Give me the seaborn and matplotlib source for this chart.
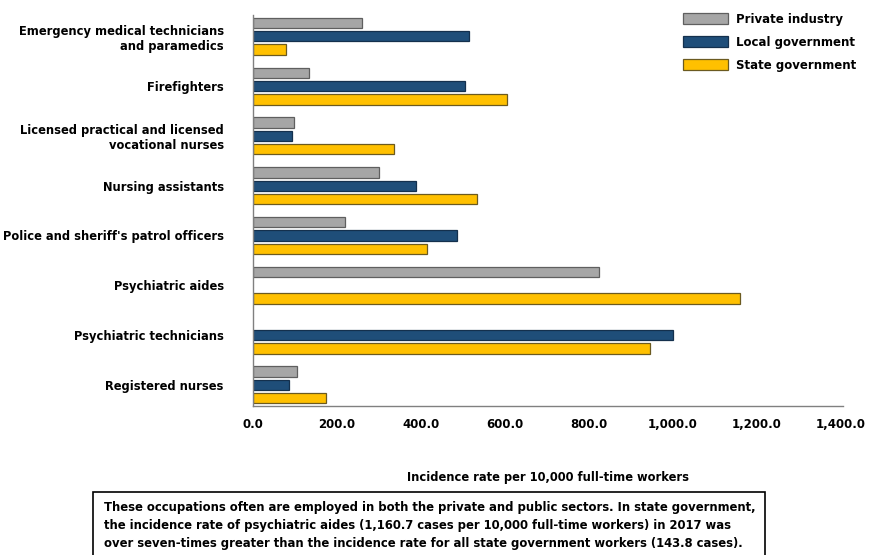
import numpy as np
import pandas as pd
import matplotlib
matplotlib.use("Agg")
import matplotlib.pyplot as plt
import seaborn as sns
from matplotlib.ticker import FuncFormatter, FixedLocator
from matplotlib.patches import Rectangle, Patch

occupations = [
    "Emergency medical technicians\nand paramedics",
    "Firefighters",
    "Licensed practical and licensed\nvocational nurses",
    "Nursing assistants",
    "Police and sheriff's patrol officers",
    "Psychiatric aides",
    "Psychiatric technicians",
    "Registered nurses",
]
private_industry = [260.0, 134.0, 97.0, 301.0, 218.0, 823.0, np.nan, 105.0]
local_government = [514.0, 506.0, 94.0, 388.0, 485.0, np.nan, 1001.0, 85.0]
state_government = [79.0, 605.0, 335.0, 533.0, 414.0, 1160.7, 946.0, 175.0]
sectors = ["Private industry", "Local government", "State government"]
x_ticks = [0, 200, 400, 600, 800, 1000, 1200, 1400]
x_label = "Incidence rate per 10,000 full-time workers"
note_lines = [
    "These occupations often are employed in both the private and public sectors. In state government,",
    "the incidence rate of psychiatric aides (1,160.7 cases per 10,000 full-time workers) in 2017 was",
    "over seven-times greater than the incidence rate for all state government workers (143.8 cases).",
]

colors = {"Private industry": "#A6A6A6", "Local government": "#1F4E79", "State government": "#FFC000"}
edge_colors = {"Private industry": "#5f5f5f", "Local government": "#14304d", "State government": "#6b5a20"}

rows = []
for occ, p, l, s in zip(occupations, private_industry, local_government, state_government):
    rows.append((occ, sectors[0], p))
    rows.append((occ, sectors[1], l))
    rows.append((occ, sectors[2], s))
df = pd.DataFrame(rows, columns=["occupation", "sector", "rate"])

sns.set_style("white")
plt.rcParams["font.family"] = ["DejaVu Sans"]
plt.rcParams["font.weight"] = "bold"
for k in ["text.color", "axes.labelcolor", "xtick.color", "ytick.color"]:
    plt.rcParams[k] = "black"

FS = 8.3

fig = plt.figure(figsize=(8.72, 5.55), dpi=100)
ax = fig.add_axes([253 / 872, 1 - 405.8 / 555, 590 / 872, 390.4 / 555])

sns.barplot(
    data=df, x="rate", y="occupation", hue="sector", hue_order=sectors,
    order=occupations, palette=colors, orient="h", errorbar=None, saturation=1,
    width=0.8, gap=0.22, edgecolor="#5a5a5a", linewidth=0.9, ax=ax, legend=False,
)
for container, s in zip(ax.containers, sectors):
    for bar in container:
        bar.set_edgecolor(edge_colors[s])

ax.set_xlim(0, 1405)
ax.set_ylim(7.42, -0.42)
ax.xaxis.set_major_locator(FixedLocator(x_ticks))
ax.xaxis.set_major_formatter(FuncFormatter(lambda v, p: f"{v:,.1f}"))
ax.tick_params(axis="x", direction="out", length=3, width=0.8, color="#808080",
               pad=6, labelsize=FS + 0.2, labelcolor="black")
ax.tick_params(axis="y", length=0, pad=21, labelsize=FS, labelcolor="black")
for lab in ax.get_xticklabels() + ax.get_yticklabels():
    lab.set_fontweight("bold")
ax.set_ylabel("")
ax.set_xlabel("")
for side in ["top", "right"]:
    ax.spines[side].set_visible(False)
for side in ["left", "bottom"]:
    ax.spines[side].set_color("#808080")
    ax.spines[side].set_linewidth(1.0)

fig.text(548 / 872, 1 - 478 / 555, x_label, ha="center", va="center",
         fontsize=FS, fontweight="bold", color="black")

handles = [Patch(facecolor=colors[s], edgecolor=edge_colors[s], linewidth=0.9, label=s) for s in sectors]
fig.legend(handles=handles, loc="upper left", bbox_to_anchor=(678 / 872, 1 - 8 / 555),
           frameon=False, handlelength=3.8, handleheight=1.05,
           handletextpad=0.75, labelspacing=0.85, borderaxespad=0, borderpad=0.4,
           prop={"weight": "bold", "size": FS + 0.2})

fig.patches.append(Rectangle((93 / 872, -0.05), (765 - 93) / 872, 0.05 + (555 - 492) / 555,
                             transform=fig.transFigure, facecolor="white",
                             edgecolor="black", linewidth=1.2))
for line, yy in zip(note_lines, [507, 525, 543.5]):
    fig.text(104 / 872, 1 - yy / 555, line, ha="left", va="center",
             fontsize=8.37, fontweight="bold", color="black")

fig.savefig("out.png", dpi=100)
